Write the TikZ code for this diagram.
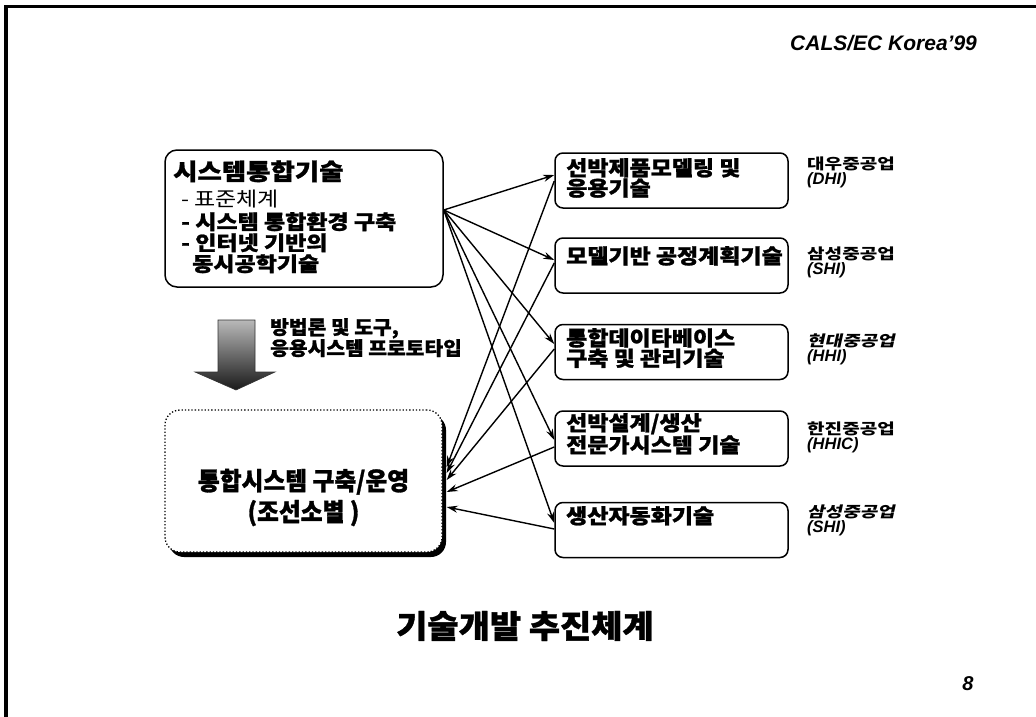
\documentclass[tikz,border=0pt]{standalone}
\usepackage{fontspec}
\setmainfont{Liberation Sans}
\newfontfamily\krbox{Noto Sans CJK KR}[FakeStretch=1.12, BoldFeatures={FakeBold=1.2}]
\newfontfamily\krhead{Noto Sans CJK KR}[FakeStretch=1.15, BoldFeatures={FakeBold=1.2}]
\newfontfamily\krlist{Noto Sans CJK KR}[FakeStretch=1.15, BoldFeatures={FakeBold=1.2}]
\newfontfamily\krmeth{Noto Sans CJK KR}[FakeStretch=1.07, BoldFeatures={FakeBold=1.2}]
\newfontfamily\krbot{Noto Sans CJK KR}[FakeStretch=0.95, BoldFeatures={FakeBold=1.2}]
\newfontfamily\krtitle{Noto Sans CJK KR}[FakeStretch=1.06, BoldFeatures={FakeBold=1.2}]
\newfontfamily\krcomp{Noto Sans CJK KR}[FakeStretch=1.27]
\newfontfamily\krcompit{Noto Sans CJK KR}[FakeStretch=1.27, FakeSlant=0.22]
\newcommand\latnfont{\fontsize{16.5}{15}\selectfont\bfseries\itshape}
\usetikzlibrary{arrows.meta,calc,shadows}
\begin{document}
\begin{tikzpicture}[x=1pt,y=-1pt,
  box/.style={draw, line width=1.5pt, rounded corners=8pt, minimum width=233pt, minimum height=55pt, inner sep=0pt},
  boxtext/.style={anchor=north west, align=left, inner sep=0pt, font=\krbox\bfseries\fontsize{20.5}{16.5}\selectfont},
  comp/.style={anchor=north west, align=left, inner sep=0pt, font=\fontsize{15}{15}\selectfont},
  arr/.style={line width=1.4pt, -{Stealth[length=11pt,width=7pt]}},
]
\useasboundingbox (0,0) rectangle (1036,717);
\fill[white] (0,0) rectangle (1036,717);
% frame
\draw[line width=3.5pt] (6,717) -- (6,6.5) -- (1036,6.5);
\node[anchor=base west, inner sep=0pt, font=\fontsize{21}{24}\selectfont\bfseries\itshape] (hdr) at (790,50.5) {CALS/EC Korea’99};

% top-left box
\node[draw, line width=1.5pt, rounded corners=12pt, minimum width=278pt, minimum height=137pt, inner sep=0pt] (sysbox) at (304,218.5) {};
\node[anchor=base west, inner sep=0pt, font=\krhead\bfseries\fontsize{23}{26}\selectfont] (systitle) at (173,180) {시스템통합기술};
\node[anchor=north west, align=left, inner sep=0pt, font=\krlist\fontsize{20}{21}\selectfont] (syslist) at (181,189.5)
  {- 표준체계\\[2pt] {\bfseries - 시스템 통합환경 구축}\\ {\bfseries - 인터넷 기반의}\\ \hspace*{11pt}{\bfseries 동시공학기술}};

% big down arrow
\shade[top color=gray!55, bottom color=black!90, draw=black!80, line width=0.6pt]
  (218,320) -- (255,320) -- (255,372) -- (275,372) -- (236,390) -- (195,372) -- (218,372) -- cycle;
\node[anchor=north west, align=left, inner sep=0pt, font=\krmeth\bfseries\fontsize{19}{21}\selectfont] (method) at (270,318)
  {방법론 및 도구,\\응용시스템 프로토타입};

% bottom-left box
\node[draw, dotted, line width=1.3pt, fill=white, rounded corners=15pt, minimum width=277pt, minimum height=142pt, inner sep=0pt,
  drop shadow={shadow xshift=4pt, shadow yshift=-5pt, fill=black, opacity=1}] (bot) at (303.5,481) {};
\node[align=center, inner sep=0pt, font=\krbot\bfseries\fontsize{25}{31}\selectfont] (bottext) at (303.5,497.5)
  {통합시스템 구축/운영\\(조선소별 )};

% right boxes
\node[box] (b1) at (671.5,180.5) {};
\node[box] (b2) at (671.5,265.5) {};
\node[box] (b3) at (671.5,352) {};
\node[box] (b4) at (671.5,438.5) {};
\node[box] (b5) at (671.5,530) {};
\node[boxtext] (t1) at (566,158) {선박제품모델링 및\\응용기술};
\node[boxtext] (t2) at (566,246) {모델기반 공정계획기술};
\node[boxtext] (t3) at (566,328) {통합데이타베이스\\구축 및 관리기술};
\node[boxtext] (t4) at (566,413) {선박설계/생산\\전문가시스템 기술};
\node[boxtext] (t5) at (566,506) {생산자동화기술};

% companies
\node[comp] (c1) at (807,157) {{\krcomp\bfseries 대우중공업}\\{\latnfont (DHI)}};
\node[comp] (c2) at (807,247) {{\krcomp\bfseries 삼성중공업}\\{\latnfont (SHI)}};
\node[comp] (c3) at (807,334) {{\krcompit\bfseries 현대중공업}\\{\latnfont (HHI)}};
\node[comp] (c4) at (807,422) {{\krcomp\bfseries 한진중공업}\\{\latnfont (HHIC)}};
\node[comp] (c5) at (807,505) {{\krcompit\bfseries 삼성중공업}\\{\latnfont (SHI)}};

\node[inner sep=0pt, font=\fontsize{20}{22}\selectfont\bfseries\itshape] (pg) at (968,684) {8};
\node[inner sep=0pt, font=\krtitle\bfseries\fontsize{32}{34}\selectfont] (title) at (525,626) {기술개발 추진체계};

% connectors
\coordinate (src) at ([yshift=8.5pt]sysbox.east);
\coordinate (f1) at ([yshift=5.5pt]b1.west);
\coordinate (f2) at ([yshift=5.5pt]b2.west);
\coordinate (f3) at ([yshift=8pt]b3.west);
\coordinate (f4) at ([yshift=-1.5pt]b4.west);
\coordinate (f5) at ([yshift=7pt]b5.west);
\foreach \t in {f1,f2,f3,f4,f5} \draw[arr] (src) -- (\t);

\coordinate (s1) at ([yshift=-0.5pt]b1.west);
\coordinate (s2) at ([yshift=2.5pt]b2.west);
\coordinate (s3) at ([yshift=3pt]b3.west);
\coordinate (s4) at ([yshift=-8.5pt]b4.west);
\coordinate (s5) at ([yshift=1pt]b5.west);
\coordinate (e1) at ([xshift=4pt,yshift=14pt]bot.east);
\coordinate (e2) at ([xshift=4pt,yshift=8pt]bot.east);
\coordinate (e3) at ([xshift=4pt,yshift=1pt]bot.east);
\coordinate (e4) at ([xshift=4pt,yshift=-11pt]bot.east);
\coordinate (e5) at ([xshift=4pt,yshift=-26pt]bot.east);
\draw[arr] (s1) -- (e1);
\draw[arr] (s2) -- (e2);
\draw[arr] (s3) -- (e3);
\draw[arr] (s4) -- (e4);
\draw[arr] (s5) -- (e5);
\end{tikzpicture}
\end{document}
